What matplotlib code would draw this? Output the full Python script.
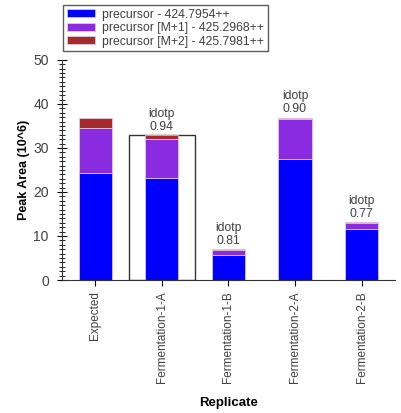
import numpy as np
import matplotlib
matplotlib.use('Agg')
import matplotlib.pyplot as plt
from matplotlib.patches import Rectangle
from matplotlib.ticker import MultipleLocator

plt.rcParams['font.family'] = ['Liberation Sans', 'DejaVu Sans']

# data (peak area, 10^6)
replicates = ["Expected", "Fermentation-1-A", "Fermentation-1-B",
              "Fermentation-2-A", "Fermentation-2-B"]
precursor = [24.2, 23.1, 5.7, 27.5, 11.6]
precursor_m1 = [10.3, 8.9, 1.2, 9.1, 1.4]
precursor_m2 = [2.4, 1.0, 0.1, 0.3, 0.1]
idotp = [None, "0.94", "0.81", "0.90", "0.77"]
selected = 1

series = [
    ("precursor - 424.7954++", precursor, "#0000ff"),
    ("precursor [M+1] - 425.2968++", precursor_m1, "#8a2be2"),
    ("precursor [M+2] - 425.7981++", precursor_m2, "#a52a2a"),
]

fig = plt.figure(figsize=(4.01, 4.13), dpi=100)
ax = fig.add_axes([0.1546, 0.322, 0.83, 0.533])

x = np.arange(len(replicates))
bottom = np.zeros(len(replicates))
handles = []
for name, vals, col in series:
    b = ax.bar(x, vals, width=0.5, bottom=bottom, color=col,
               edgecolor="#e6d2f0", linewidth=0.5, label=name, zorder=2)
    handles.append(b)
    bottom += np.array(vals)

# selected replicate box
ax.add_patch(Rectangle((selected - 0.5, 0), 1.0, bottom[selected],
                       fill=False, edgecolor="#333333", linewidth=1.0, zorder=1))

for i, lab in enumerate(idotp):
    if lab is None:
        continue
    top = bottom[i]
    ax.text(x[i], top + 0.5, "idotp\n" + lab, ha="center", va="bottom",
            fontsize=8.7, color="#404040", linespacing=1.1)

ax.set_xlim(-0.5, 4.5)
ax.set_ylim(0, 50)
ax.set_xticks(x)
ax.set_xticklabels(replicates, rotation=90, fontsize=8.5, color="#404040")
ax.yaxis.set_major_locator(MultipleLocator(10))
ax.yaxis.set_minor_locator(MultipleLocator(1))
ax.tick_params(axis="y", which="major", direction="inout", length=7,
               labelsize=10, labelcolor="#404040", pad=6)
ax.tick_params(axis="y", which="minor", direction="inout", length=4)
ax.tick_params(axis="x", which="major", direction="inout", length=8,
               pad=4)

for s in ["top", "right"]:
    ax.spines[s].set_visible(False)
ax.spines["left"].set_color("#333333")
ax.spines["bottom"].set_color("#333333")

ax.set_ylabel("Peak Area (10^6)", fontsize=9, fontweight="bold", labelpad=2)
ax.set_xlabel("Replicate", fontsize=9.5, fontweight="bold", labelpad=10)

leg = fig.legend(handles=handles, loc="upper left",
                 bbox_to_anchor=(0.157, 0.988), bbox_transform=fig.transFigure,
                 fontsize=8.8, frameon=True, fancybox=False, edgecolor="#333333",
                 handlelength=2.3, handleheight=0.6, handletextpad=0.6,
                 borderpad=0.3, labelspacing=0.12, borderaxespad=0)
leg.get_frame().set_linewidth(1.0)
for t in leg.get_texts():
    t.set_color("#404040")

fig.savefig("out.png", dpi=100)
